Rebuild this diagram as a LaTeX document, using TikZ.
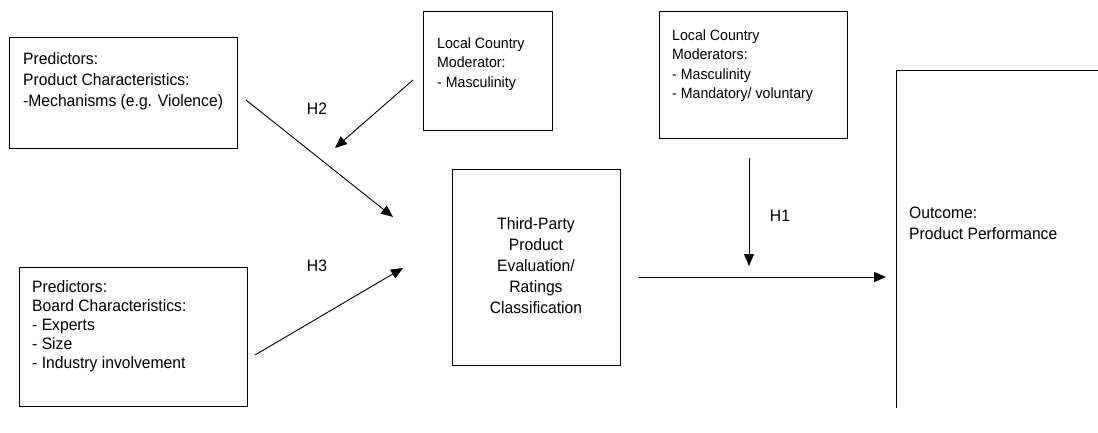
\documentclass[tikz,border=0pt]{standalone}
\usepackage{fontspec}
\setmainfont[FakeStretch=0.95]{Liberation Sans}
\usetikzlibrary{arrows.meta}
\begin{document}
\begin{tikzpicture}[x=1pt,y=-1pt,
  box/.style={draw, line width=0.9pt, inner sep=0pt, anchor=north west},
  txt/.style={inner sep=0pt, anchor=north west, align=left, font=\fontsize{16.5}{21}\selectfont},
  stxt/.style={inner sep=0pt, anchor=north west, align=left, font=\fontsize{14.9}{19.5}\selectfont},
  lbl/.style={inner sep=0pt, font=\fontsize{16.5}{18}\selectfont},
  arr/.style={line width=0.9pt, -{Triangle[length=12pt,width=10pt]}}]
\useasboundingbox (0,0) rectangle (1098,433);
% boxes
\node[box, minimum width=228pt, minimum height=111pt] (pred1) at (9,37) {};
\node[box, minimum width=129pt, minimum height=119pt] (mod1) at (423,11) {};
\node[box, minimum width=188pt, minimum height=127pt] (mod2) at (659,11) {};
\node[box, minimum width=168pt, minimum height=196pt] (third) at (452,169) {};
\node[box, minimum width=228pt, minimum height=139pt] (pred2) at (19,267) {};
% outcome box (cut off at the right and bottom)
\coordinate (oTR) at (1100,70);
\coordinate (oTL) at (896,70);
\coordinate (oBL) at (896,408);
\draw[line width=0.9pt] (oTR) -- (oTL) -- (oBL);
% texts
\node[txt] (t1) at (23,52) {Predictors:\\Product Characteristics:\\-Mechanisms (e.g. Violence)};
\node[stxt] (t2) at (437,37.5) {Local Country\\Moderator:\\- Masculinity};
\node[stxt] (t3) at (672,29.5) {Local Country\\Moderators:\\- Masculinity\\- Mandatory/ voluntary};
\node[txt, anchor=north, align=center] (t4) at (536,217) {Third-Party\\Product\\Evaluation/\\Ratings\\Classification};
\node[txt, font=\fontsize{16.5}{19}\selectfont] (t5) at (32,280) {Predictors:\\Board Characteristics:\\- Experts\\- Size\\- Industry involvement};
\node[txt] (t6) at (909,207) {Outcome:\\Product Performance};
% connectors
\coordinate (h2s) at (246,100);
\coordinate (h2e) at (393,217);
\coordinate (m1s) at (413,80);
\coordinate (m1e) at (335,148);
\coordinate (h3s) at (255,355);
\coordinate (h3e) at (403,268);
\coordinate (h1s) at (749,158);
\coordinate (h1e) at (749,266);
\coordinate (outs) at (639,277);
\coordinate (oute) at (886,277);
\draw[arr] (h2s) -- (h2e);
\draw[arr] (m1s) -- (m1e);
\draw[arr] (h3s) -- (h3e);
\draw[arr] (h1s) -- (h1e);
\draw[arr] (outs) -- (oute);
% labels
\node[lbl] (lh2) at (317,109) {H2};
\node[lbl] (lh3) at (317,266) {H3};
\node[lbl] (lh1) at (780,216) {H1};
\end{tikzpicture}
\end{document}
